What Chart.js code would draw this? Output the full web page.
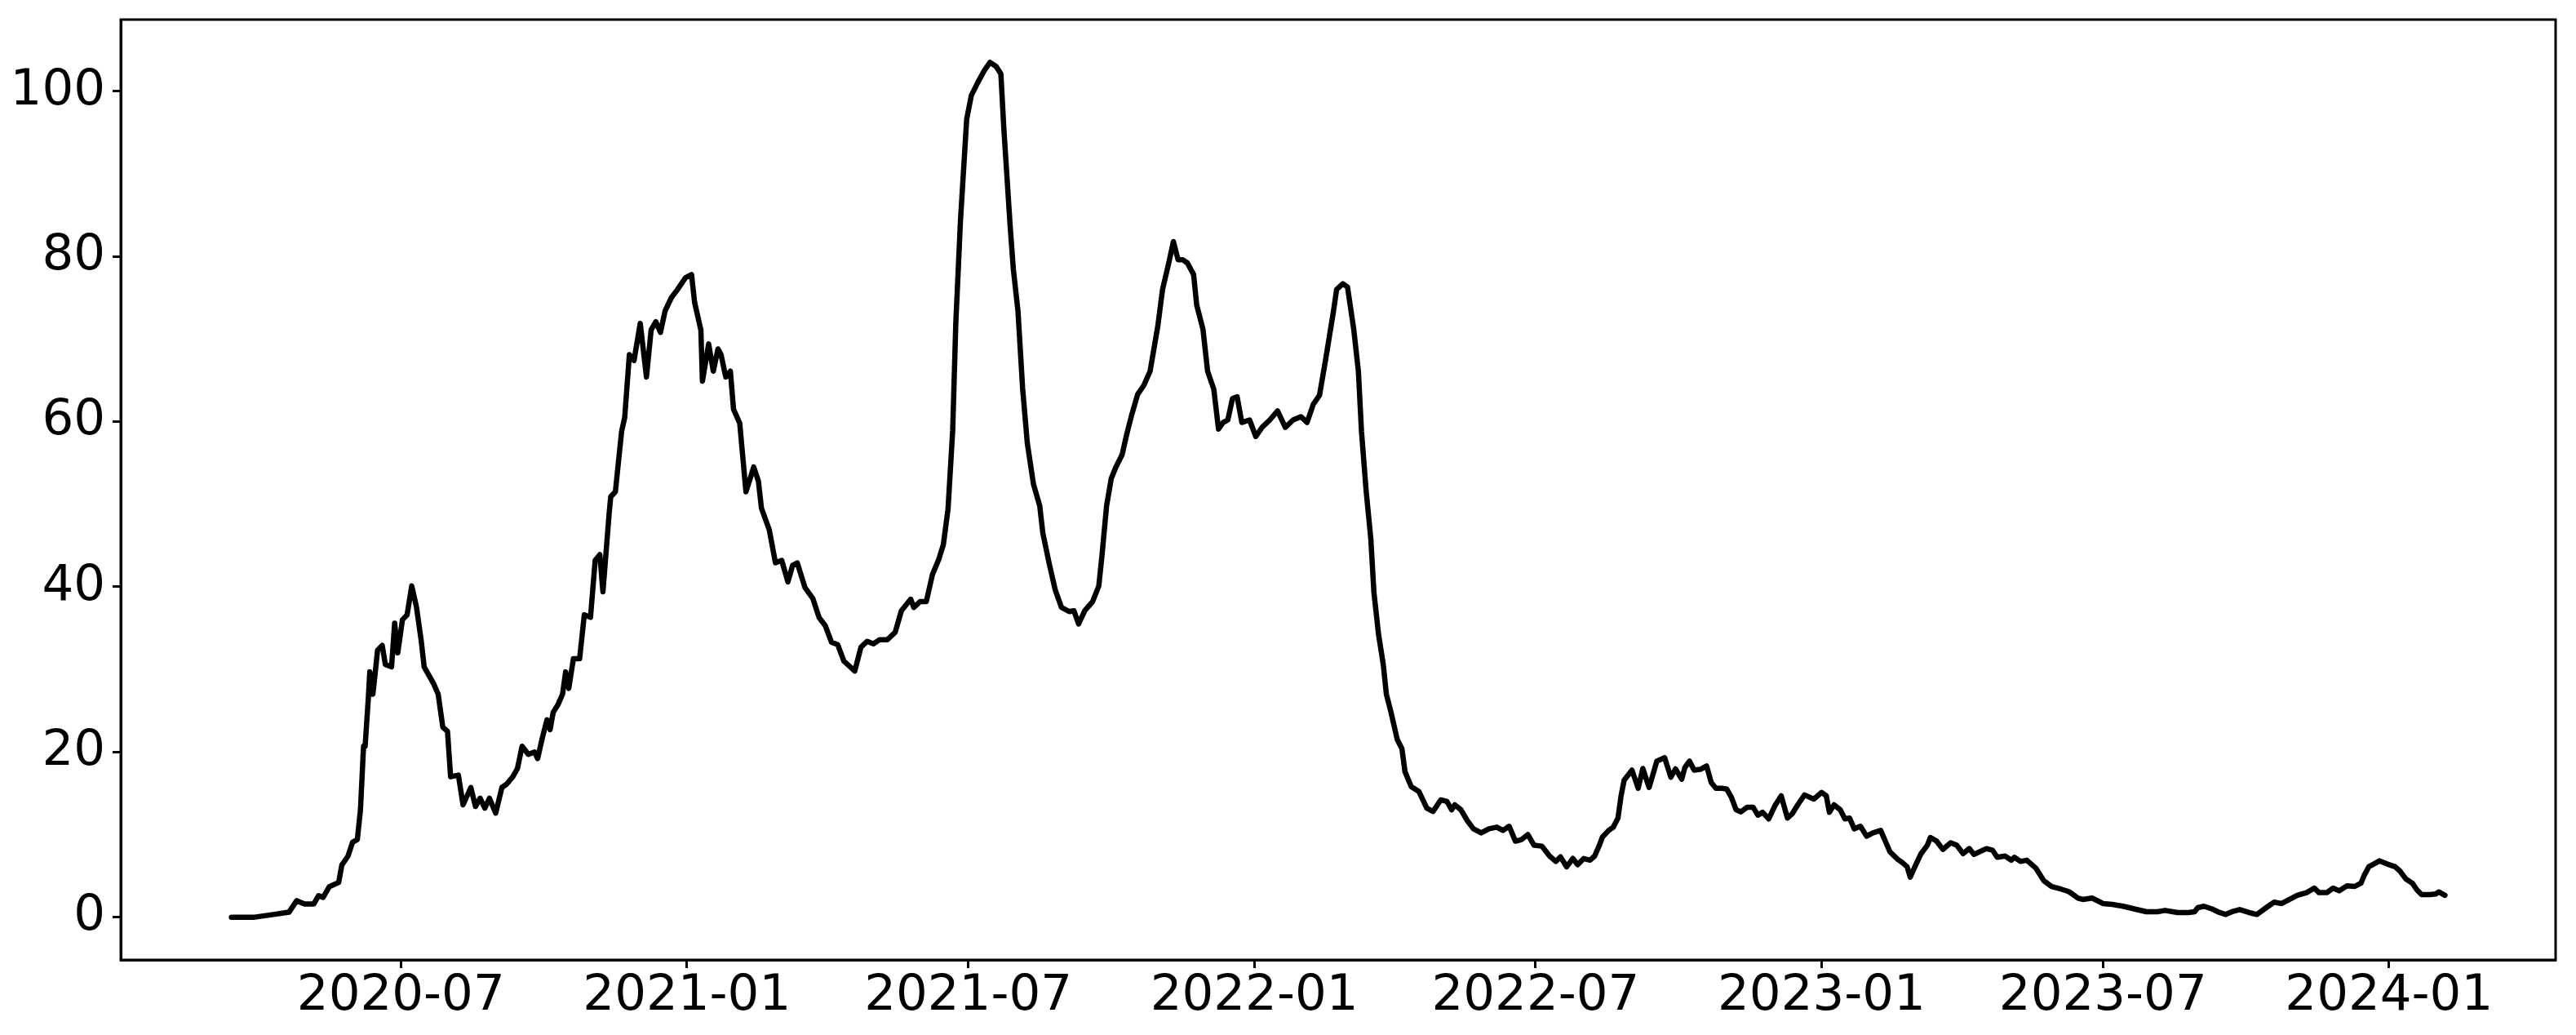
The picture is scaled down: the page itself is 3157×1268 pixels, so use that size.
<!DOCTYPE html>
<html>
<head>
<meta charset="utf-8">
<script src="https://cdn.jsdelivr.net/npm/chart.js@4.4.1/dist/chart.umd.min.js"></script>
<style>
  body { margin: 0; background: #fff; }
  #wrap { width: 3157px; height: 1268px; }
</style>
</head>
<body>
<div id="wrap"><canvas id="chart" width="3157" height="1268"></canvas></div>
<script>
// values, split by year
const dates2020 = ["2020-03-14","2020-03-29","2020-04-09","2020-04-20","2020-04-25","2020-04-30","2020-05-06","2020-05-09","2020-05-12","2020-05-16","2020-05-22","2020-05-24","2020-05-28","2020-05-31","2020-06-03","2020-06-05","2020-06-07","2020-06-08","2020-06-10","2020-06-11","2020-06-13","2020-06-14","2020-06-16","2020-06-19","2020-06-21","2020-06-25","2020-06-27","2020-06-29","2020-07-02","2020-07-05","2020-07-08","2020-07-11","2020-07-14","2020-07-16","2020-07-22","2020-07-25","2020-07-28","2020-07-31","2020-08-02","2020-08-07","2020-08-10","2020-08-15","2020-08-18","2020-08-21","2020-08-24","2020-08-27","2020-08-31","2020-09-04","2020-09-07","2020-09-11","2020-09-14","2020-09-17","2020-09-21","2020-09-25","2020-09-27","2020-09-30","2020-10-03","2020-10-05","2020-10-07","2020-10-10","2020-10-13","2020-10-15","2020-10-17","2020-10-20","2020-10-24","2020-10-27","2020-10-31","2020-11-03","2020-11-06","2020-11-08","2020-11-12","2020-11-13","2020-11-16","2020-11-20","2020-11-22","2020-11-25","2020-11-28","2020-12-02","2020-12-06","2020-12-09","2020-12-12","2020-12-15","2020-12-18","2020-12-22","2020-12-26","2020-12-31"];
const values2020 = [0,0,0.3,0.6,2.0,1.6,1.6,2.6,2.4,3.7,4.2,6.3,7.4,9.1,9.4,13.0,20.7,20.7,26.3,29.7,27.0,28.7,32.3,32.9,30.6,30.3,35.6,32.0,36.0,36.6,40.1,37.6,33.6,30.3,28.3,27.0,23.0,22.5,17.0,17.2,13.6,15.7,13.4,14.4,13.2,14.4,12.6,15.7,16.1,17.0,18.0,20.7,19.7,20.0,19.2,21.7,23.9,22.7,24.8,25.7,27.0,29.7,27.7,31.3,31.3,36.6,36.3,43.2,43.9,39.4,48.9,50.9,51.5,58.8,60.5,68.1,67.4,71.9,65.4,71.1,72.1,70.8,73.4,75.0,76.0,77.4];

const dates2021 = ["2021-01-04","2021-01-06","2021-01-10","2021-01-11","2021-01-15","2021-01-18","2021-01-21","2021-01-23","2021-01-26","2021-01-29","2021-01-31","2021-02-04","2021-02-08","2021-02-13","2021-02-16","2021-02-18","2021-02-23","2021-02-27","2021-03-03","2021-03-07","2021-03-10","2021-03-13","2021-03-18","2021-03-23","2021-03-27","2021-03-31","2021-04-04","2021-04-08","2021-04-12","2021-04-19","2021-04-23","2021-04-27","2021-05-01","2021-05-05","2021-05-10","2021-05-15","2021-05-19","2021-05-25","2021-05-27","2021-05-31","2021-06-04","2021-06-08","2021-06-12","2021-06-15","2021-06-18","2021-06-21","2021-06-23","2021-06-26","2021-06-30","2021-07-03","2021-07-07","2021-07-11","2021-07-15","2021-07-19","2021-07-22","2021-07-24","2021-07-26","2021-07-28","2021-07-30","2021-08-02","2021-08-05","2021-08-08","2021-08-12","2021-08-16","2021-08-18","2021-08-22","2021-08-26","2021-08-30","2021-09-04","2021-09-07","2021-09-10","2021-09-14","2021-09-19","2021-09-23","2021-09-25","2021-09-28","2021-10-01","2021-10-04","2021-10-08","2021-10-11","2021-10-14","2021-10-18","2021-10-22","2021-10-26","2021-10-28","2021-10-31","2021-11-03","2021-11-07","2021-11-10","2021-11-13","2021-11-16","2021-11-19","2021-11-23","2021-11-25","2021-11-29","2021-12-02","2021-12-06","2021-12-09","2021-12-12","2021-12-15","2021-12-18","2021-12-21","2021-12-24","2021-12-29"];
const values2021 = [77.8,74.4,71.1,64.9,69.4,66.1,68.8,68.1,65.4,66.1,61.5,59.8,51.5,54.5,52.8,49.5,46.9,42.9,43.2,40.6,42.6,42.9,39.9,38.6,36.3,35.3,33.3,33.0,31.0,29.8,32.7,33.4,33.1,33.6,33.6,34.5,37.1,38.5,37.5,38.2,38.2,41.5,43.3,45.1,49.4,58.9,71.9,84.3,96.6,99.5,101.0,102.4,103.5,103.0,102.1,95.2,89.4,83.6,78.5,73.4,64.0,57.4,52.4,49.8,46.5,42.9,39.6,37.5,37.0,37.1,35.5,37.1,38.2,40.1,43.7,49.8,53.1,54.5,56.0,58.5,60.7,63.3,64.4,66.1,68.3,71.6,76.0,79.2,81.8,79.6,79.6,79.2,77.8,74.1,71.2,66.1,63.9,59.1,59.9,60.2,62.8,63.0,59.9,60.2];

const dates2022 = ["2022-01-02","2022-01-06","2022-01-11","2022-01-16","2022-01-21","2022-01-26","2022-01-31","2022-02-04","2022-02-08","2022-02-12","2022-02-16","2022-02-21","2022-02-23","2022-02-27","2022-03-02","2022-03-06","2022-03-09","2022-03-11","2022-03-14","2022-03-17","2022-03-19","2022-03-22","2022-03-25","2022-03-27","2022-03-30","2022-04-03","2022-04-06","2022-04-08","2022-04-12","2022-04-17","2022-04-22","2022-04-26","2022-05-01","2022-05-05","2022-05-08","2022-05-10","2022-05-14","2022-05-18","2022-05-22","2022-05-27","2022-06-01","2022-06-06","2022-06-10","2022-06-14","2022-06-18","2022-06-22","2022-06-26","2022-06-30","2022-07-05","2022-07-10","2022-07-14","2022-07-17","2022-07-21","2022-07-25","2022-07-28","2022-08-01","2022-08-05","2022-08-08","2022-08-11","2022-08-13","2022-08-17","2022-08-20","2022-08-23","2022-08-25","2022-08-27","2022-09-01","2022-09-05","2022-09-08","2022-09-12","2022-09-14","2022-09-17","2022-09-22","2022-09-26","2022-09-29","2022-10-03","2022-10-05","2022-10-08","2022-10-11","2022-10-15","2022-10-19","2022-10-22","2022-10-25","2022-10-29","2022-11-01","2022-11-04","2022-11-07","2022-11-10","2022-11-14","2022-11-18","2022-11-21","2022-11-24","2022-11-28","2022-12-02","2022-12-06","2022-12-10","2022-12-13","2022-12-17","2022-12-21","2022-12-27"];
const values2022 = [58.2,59.3,60.2,61.3,59.3,60.2,60.6,59.9,62.1,63.2,67.6,73.4,76.0,76.7,76.3,71.2,66.1,58.8,51.6,45.8,39.3,34.2,30.6,27.0,24.8,21.5,20.4,17.6,15.8,15.2,13.2,12.8,14.2,14.0,13.0,13.6,13.0,11.7,10.7,10.2,10.7,10.9,10.5,11.0,9.2,9.4,10.0,8.7,8.6,7.4,6.75,7.3,6.1,7.1,6.35,7.1,6.9,7.4,8.7,9.7,10.5,10.9,12.0,14.7,16.6,17.8,15.6,18.0,15.7,16.95,18.9,19.3,16.95,17.95,16.7,18.1,18.9,17.8,17.9,18.3,16.3,15.6,15.6,15.5,14.5,13.0,12.75,13.3,13.3,12.35,12.7,11.9,13.5,14.7,12.0,12.5,13.7,14.8,14.3];

const dates2023 = ["2023-01-01","2023-01-04","2023-01-06","2023-01-09","2023-01-13","2023-01-16","2023-01-19","2023-01-22","2023-01-26","2023-01-30","2023-02-03","2023-02-08","2023-02-11","2023-02-14","2023-02-19","2023-02-22","2023-02-25","2023-02-27","2023-03-02","2023-03-06","2023-03-10","2023-03-12","2023-03-16","2023-03-20","2023-03-25","2023-03-29","2023-04-02","2023-04-06","2023-04-09","2023-04-17","2023-04-21","2023-04-24","2023-04-29","2023-05-03","2023-05-05","2023-05-09","2023-05-13","2023-05-19","2023-05-24","2023-05-29","2023-06-04","2023-06-09","2023-06-15","2023-06-18","2023-06-24","2023-07-01","2023-07-07","2023-07-14","2023-07-21","2023-07-29","2023-08-05","2023-08-10","2023-08-18","2023-08-25","2023-08-29","2023-08-31","2023-09-04","2023-09-09","2023-09-14","2023-09-18","2023-09-22","2023-09-27","2023-10-03","2023-10-08","2023-10-14","2023-10-19","2023-10-24","2023-10-29","2023-11-03","2023-11-09","2023-11-14","2023-11-17","2023-11-22","2023-11-26","2023-11-30","2023-12-05","2023-12-10","2023-12-14","2023-12-16","2023-12-19","2023-12-26","2023-12-31"];
const values2023 = [15.1,14.7,12.7,13.6,13.0,11.9,12.0,10.7,11.0,9.8,10.2,10.5,9.2,7.9,7.0,6.6,6.1,4.85,6.1,7.7,8.7,9.65,9.2,8.2,9.0,8.7,7.7,8.3,7.6,8.3,8.1,7.25,7.4,6.9,7.25,6.75,6.9,5.9,4.4,3.7,3.4,3.1,2.3,2.14,2.31,1.65,1.55,1.32,1.0,0.66,0.66,0.82,0.56,0.56,0.66,1.15,1.32,1.0,0.56,0.33,0.66,0.92,0.56,0.33,1.15,1.81,1.65,2.14,2.64,2.97,3.52,2.97,2.97,3.52,3.19,3.79,3.72,4.12,5.04,6.1,6.82,6.43];

const dates2024 = ["2024-01-05","2024-01-08","2024-01-12","2024-01-16","2024-01-19","2024-01-22","2024-01-27","2024-01-31","2024-02-02","2024-02-06"];
const values2024 = [6.1,5.6,4.6,4.12,3.3,2.73,2.73,2.8,3.06,2.64];

const xTickDates = ["2020-07-01","2021-01-01","2021-07-01","2022-01-01","2022-07-01","2023-01-01","2023-07-01","2024-01-01"];
const yTickValues = [0, 20, 40, 60, 80, 100];

const DAY = 86400000;
function toDay(s) {
  const p = s.split("-").map(Number);
  return Date.UTC(p[0], p[1] - 1, p[2]) / DAY;
}
function fmtMonth(v) {
  return new Date(Math.round(v) * DAY).toISOString().slice(0, 7);
}

const allDates = [].concat(dates2020, dates2021, dates2022, dates2023, dates2024);
const allValues = [].concat(values2020, values2021, values2022, values2023, values2024);
const points = allDates.map((d, i) => ({ x: toDay(d), y: allValues[i] }));

// matplotlib style 5% margins
const xs = points.map(p => p.x);
const ys = points.map(p => p.y);
const xMin = Math.min(...xs), xMax = Math.max(...xs);
const yMin = Math.min(...ys), yMax = Math.max(...ys);
const xPad = (xMax - xMin) * 0.05;
const yPad = (yMax - yMin) * 0.05;

const tickFont = { family: "DejaVu Sans", size: 61 };

const frame = {
  id: "frame",
  afterDraw(chart) {
    const a = chart.chartArea;
    const c = chart.ctx;
    c.save();
    c.strokeStyle = "#000";
    c.lineWidth = 3;
    c.strokeRect(a.left, a.top, a.right - a.left, a.bottom - a.top);
    c.restore();
  }
};

const ctx = document.getElementById("chart").getContext("2d");
const chart = new Chart(ctx, {
  type: "line",
  data: {
    datasets: [
      {
        data: points,
        borderColor: "#000",
        borderWidth: 6.5,
        pointRadius: 0,
        tension: 0,
        borderJoinStyle: "round",
        borderCapStyle: "round",
        fill: false
      }
    ]
  },
  options: {
    responsive: false,
    animation: false,
    devicePixelRatio: 1,
    layout: { padding: { left: 0, top: 24, right: 25, bottom: 0 } },
    plugins: { legend: { display: false }, tooltip: { enabled: false } },
    scales: {
      x: {
        type: "linear",
        min: xMin - xPad,
        max: xMax + xPad,
        afterBuildTicks: scale => {
          scale.ticks = xTickDates.map(d => ({ value: toDay(d) }));
        },
        afterFit: scale => {
          scale.height = 92;
          scale.paddingLeft = 0;
          scale.paddingRight = 0;
        },
        ticks: {
          color: "#000",
          font: tickFont,
          padding: -1,
          maxRotation: 0,
          autoSkip: false,
          callback: v => fmtMonth(v)
        },
        grid: { drawOnChartArea: false, drawTicks: true, tickLength: 10, tickWidth: 3, color: "#000" },
        border: { display: true, color: "#000", width: 3 }
      },
      y: {
        type: "linear",
        min: yMin - yPad,
        max: yMax + yPad,
        afterBuildTicks: scale => {
          scale.ticks = yTickValues.map(v => ({ value: v }));
        },
        afterFit: scale => {
          scale.width = 148;
          scale.paddingTop = 0;
          scale.paddingBottom = 0;
        },
        ticks: {
          color: "#000",
          font: tickFont,
          padding: 9,
          autoSkip: false,
          callback: v => String(v)
        },
        grid: { drawOnChartArea: false, drawTicks: true, tickLength: 10, tickWidth: 3, color: "#000" },
        border: { display: true, color: "#000", width: 3 }
      }
    }
  },
  plugins: [frame]
});
</script>
</body>
</html>
